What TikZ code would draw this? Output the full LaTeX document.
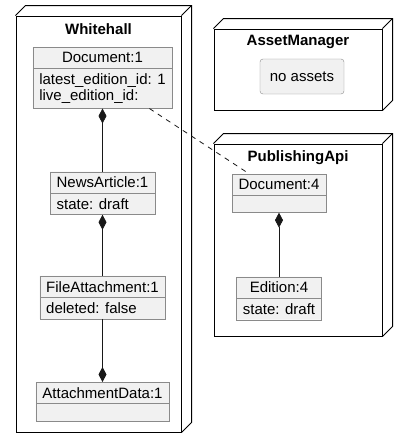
\documentclass[tikz,border=0pt]{standalone}
\usepackage{fontspec}
\setmainfont{Liberation Sans}
\usetikzlibrary{positioning, shapes.multipart, arrows.meta}
\definecolor{objfill}{HTML}{F1F1F1}
\definecolor{objline}{HTML}{8A8A8A}
\definecolor{linkline}{HTML}{181818}

\begin{document}
\begin{tikzpicture}[x=1pt, y=-1pt, node distance={63pt},
  frame/.style = {draw, line width=1pt, minimum width=#1},
  title/.style = {font=\fontsize{15}{18}\bfseries\selectfont, inner sep=0pt, anchor=north},
  obj/.style = {draw=objline, fill=objfill, rectangle split, rectangle split parts=2,
    rectangle split part align={center,left}, align=left, inner xsep=6.5pt, inner ysep=5pt,
    font=\fontsize{15}{16}\selectfont},
  note/.style = {draw=objline, fill=objfill, rounded corners=3pt, minimum width=84pt,
    minimum height=35pt, font=\fontsize{15}{18}\selectfont},
  comp/.style = {draw=linkline, line width=0.8pt, -{Diamond[length=15pt,width=8pt]}},
  link/.style = {draw=linkline, line width=0.8pt, dash pattern=on 5pt off 5pt}]
  \useasboundingbox (0,0) rectangle (407,448);

  % containers
  \node[frame=165pt, minimum height=416pt] (wh) at (98.5,224) {};
  \node[frame=168pt, minimum height=81pt] (am) at (298,69.5) {};
  \node[frame=168pt, minimum height=192pt] (pa) at (298,240) {};
  \foreach \n in {wh,am,pa}{
    \draw[line width=1pt] (\n.north west) -- ++(10,-10) -| ([shift={(10,-10)}]\n.south east) -- (\n.south east);
    \draw[line width=1pt] (\n.north east) -- ++(10,-10);
  }
  \node[title, below=7.5pt of wh.north] (whtitle) {Whitehall};
  \node[title, below=6.5pt of am.north] (amtitle) {AssetManager};
  \node[title, below=6.5pt of pa.north] (patitle) {PublishingApi};

  % whitehall objects
  \node[obj, anchor=north] (doc1) at (102.5,47) {Document:1 \nodepart{two} latest\_edition\_id: 1\\live\_edition\_id:};
  \node[obj] (news) [below=of doc1] {NewsArticle:1 \nodepart{two} state: draft};
  \node[obj] (fileatt) [below=61pt of news] {FileAttachment:1 \nodepart{two} deleted: false};
  \node[obj] (attdata) [below=of fileatt] {AttachmentData:1 \nodepart{two} \rule{0pt}{7pt}};

  % asset manager
  \node[note] (noassets) at (302,76.5) {no assets};

  % publishing api objects
  \node[obj, anchor=north] (doc4) at (279,174) {Document:4 \nodepart{two} \rule{0pt}{7pt}};
  \node[obj] (edition) [below=64pt of doc4] {Edition:4 \nodepart{two} state: draft};

  % links
  \draw[comp] (news.north) -- (doc1.south);
  \draw[comp] (fileatt.north) -- (news.south);
  \draw[comp] (fileatt.south) -- (attdata.north);
  \draw[comp] (edition.north) -- (doc4.south);
  \draw[link] (doc1) -- (doc4);
\end{tikzpicture}
\end{document}
